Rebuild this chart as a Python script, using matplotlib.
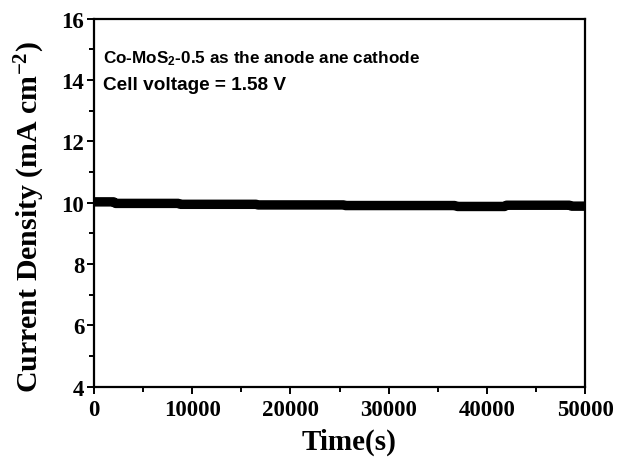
import numpy as np
import matplotlib.pyplot as plt

# chronoamperometry at 1.58 V, two-electrode cell
time_s = [0, 2000, 2200, 8600, 8800, 16500, 16700, 25400, 25600, 36700, 37000, 41800, 42000, 48400, 48600, 50000]
current = [10.03, 10.03, 9.98, 9.98, 9.95, 9.95, 9.93, 9.93, 9.91, 9.91, 9.88, 9.88, 9.92, 9.92, 9.89, 9.89]

plt.rcParams['font.family'] = ['Liberation Serif', 'DejaVu Serif']
plt.rcParams['font.weight'] = 'bold'
plt.rcParams['mathtext.default'] = 'regular'

fig = plt.figure(figsize=(6.18, 4.6), dpi=100)
ax = fig.add_axes([0.152, 0.157, 0.795, 0.8])

ax.plot(time_s, current, color='black', linewidth=6.8, solid_capstyle='butt')

ax.set_xlim(0, 50000)
ax.set_ylim(4, 16)
ax.set_xticks(np.arange(0, 50001, 10000))
ax.set_xticks(np.arange(5000, 50000, 10000), minor=True)
ax.set_yticks(np.arange(4, 17, 2))
ax.set_yticks(np.arange(5, 16, 2), minor=True)
ax.tick_params(which='both', direction='out', top=False, right=False, width=1.4)
ax.tick_params(which='major', length=5, labelsize=16.5)
ax.tick_params(which='minor', length=3.5)
ax.tick_params(axis='x', which='major', pad=4)
ax.tick_params(axis='y', which='major', pad=2)
for lab in ax.get_xticklabels() + ax.get_yticklabels():
    lab.set_fontweight('bold')
for sp in ax.spines.values():
    sp.set_linewidth(1.6)

ax.set_xlabel('Time(s)', fontsize=21, fontweight='bold')
ax.xaxis.set_label_coords(0.52, -0.11)
ax.set_ylabel('Current Density (mA cm$^{-2}$)', fontsize=21.5, fontweight='bold')
ax.yaxis.set_label_coords(-0.096, 0.465)

ax.text(0.018, 0.883, 'Co-MoS$_{2}$-0.5 as the anode ane cathode', transform=ax.transAxes,
        family=['Liberation Sans', 'DejaVu Sans'], fontsize=12.3, fontweight='bold', va='baseline')
ax.text(0.018, 0.809, 'Cell voltage = 1.58 V', transform=ax.transAxes,
        family=['Liberation Sans', 'DejaVu Sans'], fontsize=13.7, fontweight='bold', va='baseline')

fig.savefig('out.png', dpi=100)
